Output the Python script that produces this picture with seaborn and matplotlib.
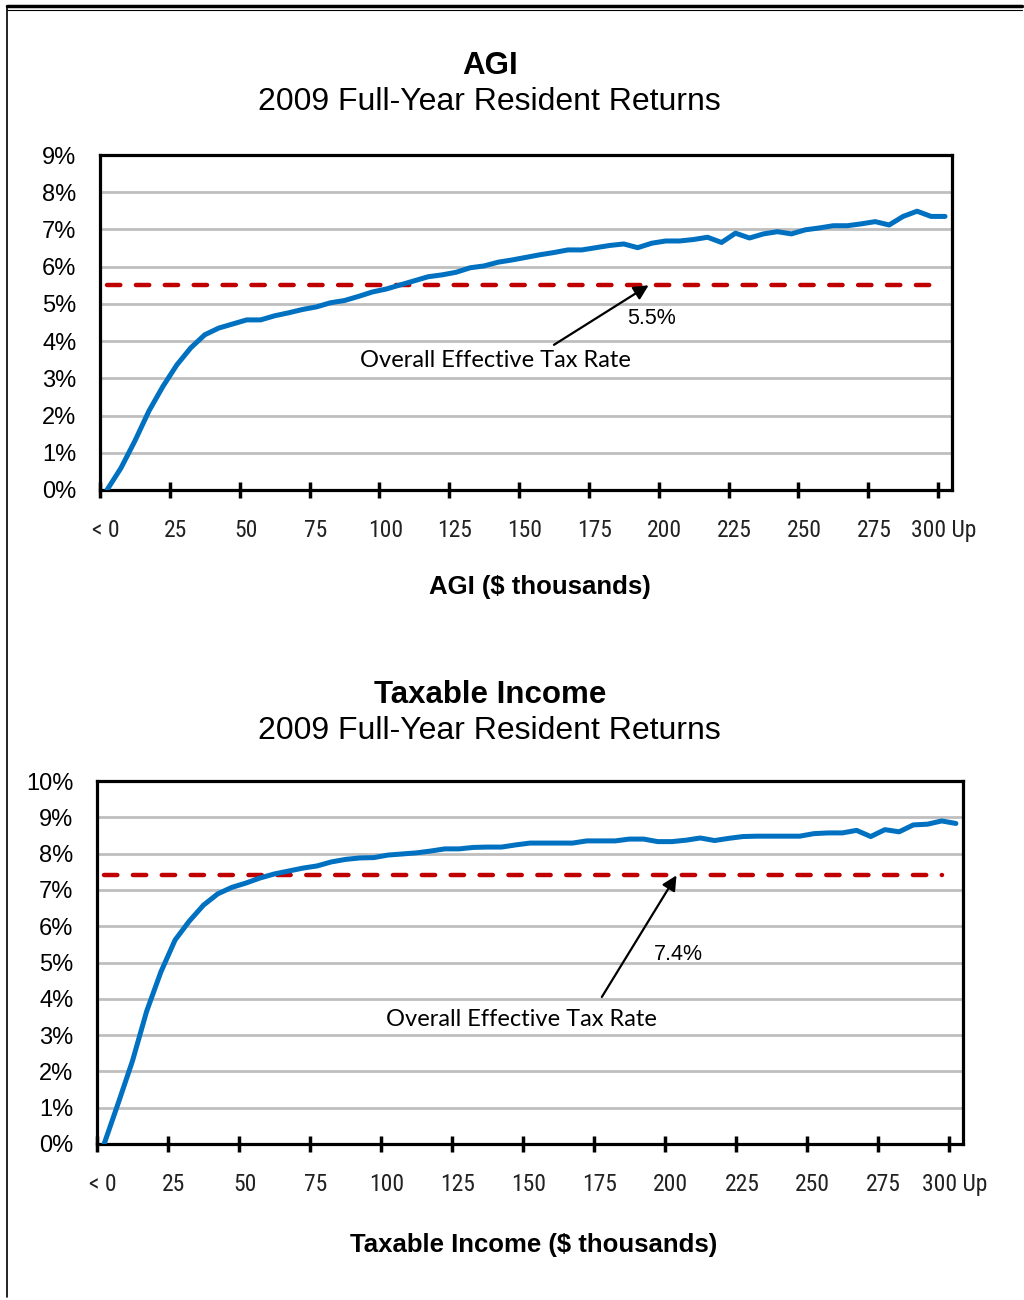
import numpy as np
import pandas as pd
import matplotlib
matplotlib.use('Agg')
import matplotlib.pyplot as plt
from matplotlib.lines import Line2D
import seaborn as sns

# effective tax rate (%) by income bracket ($5k steps, "<0" .. "300 Up")
agi_rate = [0.0, 0.59, 1.32, 2.12, 2.78, 3.36, 3.82, 4.17, 4.35, 4.46,
            4.57, 4.57, 4.68, 4.76, 4.85, 4.92, 5.03, 5.09, 5.20, 5.32,
            5.40, 5.51, 5.62, 5.73, 5.78, 5.85, 5.97, 6.02, 6.12, 6.18,
            6.25, 6.32, 6.38, 6.45, 6.45, 6.51, 6.57, 6.61, 6.51, 6.63,
            6.69, 6.69, 6.73, 6.79, 6.65, 6.90, 6.77, 6.88, 6.94, 6.88,
            6.99, 7.04, 7.10, 7.10, 7.15, 7.21, 7.12, 7.35, 7.49, 7.35,
            7.35]
taxable_rate = [0.0, 1.13, 2.29, 3.66, 4.74, 5.62, 6.14, 6.58, 6.89, 7.07,
                7.19, 7.33, 7.44, 7.52, 7.60, 7.66, 7.77, 7.84, 7.88, 7.89,
                7.96, 7.99, 8.02, 8.07, 8.13, 8.13, 8.17, 8.18, 8.18, 8.24,
                8.29, 8.29, 8.29, 8.29, 8.35, 8.35, 8.35, 8.40, 8.40, 8.33,
                8.33, 8.37, 8.43, 8.36, 8.42, 8.47, 8.48, 8.48, 8.48, 8.48,
                8.55, 8.57, 8.57, 8.64, 8.47, 8.66, 8.60, 8.79, 8.81, 8.90,
                8.83]
agi_overall = 5.5
taxable_overall = 7.4

tick_vals = [0, 25, 50, 75, 100, 125, 150, 175, 200, 225, 250, 275, 300]
tick_labels = ['< 0', '25', '50', '75', '100', '125', '150', '175', '200',
               '225', '250', '275', '300 Up']

sns.set_style('white')
plt.rcParams['font.family'] = ['Liberation Sans', 'DejaVu Sans']
plt.rcParams['text.color'] = 'black'
plt.rcParams['xtick.color'] = 'black'
plt.rcParams['ytick.color'] = 'black'

BLUE = '#0070C0'
RED = '#C00000'
GRID = '#BFBFBF'
NARROW = ['Roboto Condensed', 'Liberation Sans Narrow', 'DejaVu Sans']

fig = plt.figure(figsize=(10.24, 13), dpi=100)

panels = [
    dict(rate=agi_rate, overall=agi_overall, ymax=9,
         rect=[100 / 1024, 1 - 490 / 1300, 852 / 1024, 335 / 1300],
         title='AGI', title_y=1 - 66 / 1300, sub_y=1 - 102 / 1300,
         xlabel='AGI ($ thousands)', xl_pos=(540 / 1024, 1 - 587 / 1300),
         tip=(196.4, 5.5), tail=(162.5, 3.9),
         pct_pos=(197.5, 4.6), note_pos=(141.4, 3.47)),
    dict(rate=taxable_rate, overall=taxable_overall, ymax=10,
         rect=[97 / 1024, 1 - 1144 / 1300, 866 / 1024, 363 / 1300],
         title='Taxable Income', title_y=1 - 695 / 1300, sub_y=1 - 731 / 1300,
         xlabel='Taxable Income ($ thousands)', xl_pos=(534 / 1024, 1 - 1245 / 1300),
         tip=(204.1, 7.4), tail=(177.8, 4.05),
         pct_pos=(204.9, 5.21), note_pos=(149.6, 3.42)),
]

for p in panels:
    ax = fig.add_axes(p['rect'])
    df = pd.DataFrame({'income': np.arange(len(p['rate'])) * 5 + 2.5,
                       'rate': p['rate']})

    for g in range(1, p['ymax']):
        ax.axhline(g, color=GRID, lw=2, zorder=1)

    ax.plot([df['income'].iloc[0], df['income'].iloc[-2]],
            [p['overall'], p['overall']], color=RED, lw=3.2,
            dashes=(3, 3.5), dash_capstyle='round', zorder=2)
    sns.lineplot(data=df, x='income', y='rate', ax=ax, color=BLUE, lw=3.6,
                 zorder=3)

    ax.set_xlim(0, 305)
    ax.set_ylim(0, p['ymax'])
    # tick marks on the bracket boundaries, labels sit a little to the right
    ax.set_xticks(tick_vals)
    ax.set_xticklabels([])
    ax.set_xticks([v + 2.1 for v in tick_vals], minor=True)
    ax.set_xticklabels(tick_labels, minor=True, fontsize=17, family=NARROW,
                       fontstretch='condensed', color='#222222')
    ax.set_yticks(range(0, p['ymax'] + 1))
    ax.set_yticklabels([f'{v}%' for v in range(0, p['ymax'] + 1)], fontsize=17)
    ax.tick_params(axis='x', which='major', direction='inout', length=11,
                   width=2.5, color='black', bottom=True)
    ax.tick_params(axis='x', which='minor', length=0, pad=21, bottom=True)
    ax.tick_params(axis='y', length=0, pad=17)
    ax.set_xlabel('')
    ax.set_ylabel('')
    for s in ax.spines.values():
        s.set_visible(True)
        s.set_color('black')
        s.set_linewidth(2.3)

    ax.annotate('', xy=p['tip'], xytext=p['tail'],
                arrowprops=dict(arrowstyle='-|>', color='black', lw=1.6,
                                mutation_scale=22, shrinkA=0, shrinkB=0))
    ax.text(p['pct_pos'][0], p['pct_pos'][1], f"{p['overall']}%",
            ha='center', va='center', fontsize=15.5)
    ax.text(p['note_pos'][0], p['note_pos'][1], 'Overall Effective Tax Rate',
            ha='center', va='center', fontsize=17, family=['Lato', 'DejaVu Sans'])

    fig.text(490 / 1024, p['title_y'], p['title'], ha='center', va='center',
             fontsize=22.5, fontweight='bold')
    fig.text(489 / 1024, p['sub_y'], '2009 Full-Year Resident Returns',
             ha='center', va='center', fontsize=23)
    fig.text(p['xl_pos'][0], p['xl_pos'][1], p['xlabel'], ha='center',
             va='center', fontsize=18.5, fontweight='bold')

# page frame
fig.add_artist(Line2D([7 / 1024, 1022 / 1024], [1 - 6 / 1300, 1 - 6 / 1300],
                      transform=fig.transFigure, color='black', lw=2.5))
fig.add_artist(Line2D([7 / 1024, 1022 / 1024], [1 - 9.5 / 1300, 1 - 9.5 / 1300],
                      transform=fig.transFigure, color='black', lw=0.8))
fig.add_artist(Line2D([7 / 1024, 7 / 1024], [1 - 6 / 1300, 1 - 1297 / 1300],
                      transform=fig.transFigure, color='black', lw=1.2))

fig.savefig('out.png', dpi=100)
